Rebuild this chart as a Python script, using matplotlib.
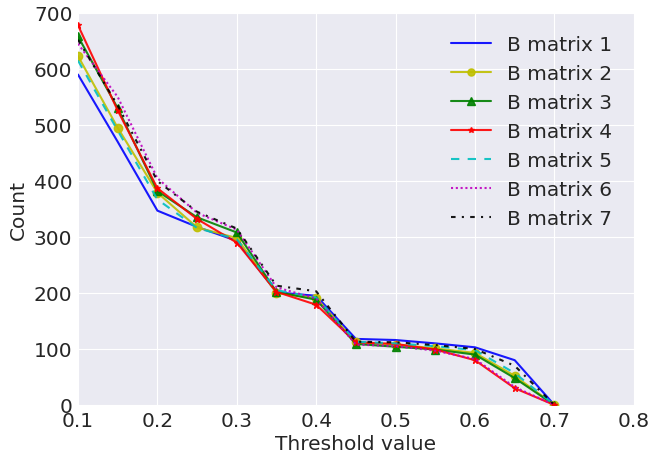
import numpy as np
import matplotlib
matplotlib.use("Agg")
import matplotlib.pyplot as plt

plt.style.use("seaborn-v0_8-darkgrid")
plt.rcParams["font.family"] = ["DejaVu Sans"]

thresholds = [0.1, 0.15, 0.2, 0.25, 0.3, 0.35, 0.4, 0.45, 0.5, 0.55, 0.6, 0.65, 0.7]

b1 = [590, 470, 347, 318, 293, 201, 195, 118, 116, 110, 103, 80, 0]
b2 = [623, 495, 379, 317, 298, 200, 191, 112, 108, 101, 93, 52, 0]
b3 = [658, 530, 382, 335, 308, 202, 188, 109, 104, 99, 90, 48, 0]
b4 = [678, 526, 387, 332, 290, 202, 179, 112, 109, 99, 80, 30, 0]
b5 = [615, 490, 367, 316, 296, 205, 192, 113, 110, 105, 98, 57, 0]
b6 = [645, 550, 405, 343, 313, 210, 190, 108, 105, 97, 82, 32, 0]
b7 = [652, 535, 400, 345, 315, 213, 203, 113, 112, 107, 100, 70, 0]

labels = ["B matrix %d" % i for i in range(1, 8)]

fig = plt.figure(figsize=(6.57, 4.64), dpi=100)
ax = fig.add_axes([0.1187, 0.125, 0.846, 0.845])

lw = 1.5
a = 0.9
ax.plot(thresholds, b1, "b-", lw=lw, alpha=a, label=labels[0])
ax.plot(thresholds, b2, "y-", marker="o", ms=6, mec="y", lw=lw, alpha=a, label=labels[1])
ax.plot(thresholds, b3, "g-", marker="^", ms=6, mec="g", lw=lw, alpha=a, label=labels[2])
ax.plot(thresholds, b4, "r-", marker="*", ms=5, mec="r", lw=lw, alpha=a, label=labels[3])
ax.plot(thresholds, b5, "c--", lw=lw, alpha=a, dashes=(4, 4), label=labels[4])
ax.plot(thresholds, b6, "m:", lw=lw, alpha=a, dashes=(1, 1.3), label=labels[5])
ax.plot(thresholds, b7, "k-.", lw=lw, alpha=a, dashes=(2.2, 3, 1, 3), label=labels[6])

ax.set_xlim(0.1, 0.8)
ax.set_ylim(0, 700)
ax.set_xticks(np.arange(0.1, 0.81, 0.1))
ax.set_xticklabels(["0.1", "0.2", "0.3", "0.4", "0.5", "0.6", "0.7", "0.8"])
ax.tick_params(labelsize=14.5, pad=4)
ax.set_xlabel("Threshold value", fontsize=14.5, labelpad=3)
ax.set_ylabel("Count", fontsize=14.5)

ax.legend(loc="upper right", fontsize=14.5, numpoints=1, frameon=False,
          handlelength=2.0, handletextpad=0.75, borderaxespad=0.7,
          labelspacing=0.5, markerscale=0.85)

fig.savefig("out.png", dpi=100)
